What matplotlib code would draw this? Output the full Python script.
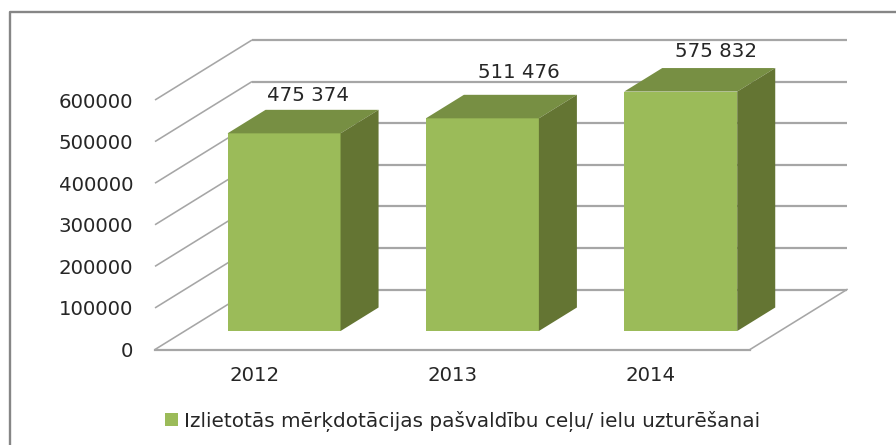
import matplotlib
matplotlib.use("Agg")
import matplotlib.pyplot as plt
from matplotlib.patches import Patch
from matplotlib.lines import Line2D

years = ["2012", "2013", "2014"]
values = [475374, 511476, 575832]
value_labels = ["475 374", "511 476", "575 832"]
y_ticks = [0, 100000, 200000, 300000, 400000, 500000, 600000]
series_name = "Izlietotās mērķdotācijas pašvaldību ceļu/ ielu uzturēšanai"

W, H = 896, 445
FRONT, TOP, SIDE = "#9BBB59", "#778F43", "#647533"
GRID, TEXT = "#A6A6A6", "#262626"

plt.rcParams["font.family"] = ["DejaVu Sans"]
fig = plt.figure(figsize=(W / 100, H / 100), dpi=100)
x0, x1, y0, y6 = 155, 750, 349.5, 100
ax = fig.add_axes([x0 / W, 1 - y0 / H, (x1 - x0) / W, (y0 - y6) / H])
ax.set_xlim(0, len(years))
ax.set_ylim(0, max(y_ticks))

# oblique projection: full chart depth in data units
px_x = (x1 - x0) / len(years)
px_y = (y0 - y6) / max(y_ticks)
DX, DY = 97 / px_x, 60 / px_y


def project(cat, val, depth):
    return cat + depth * DX, val + depth * DY


# wall grid lines
for v in y_ticks:
    xa, ya = project(0, v, 0)
    xb, yb = project(0, v, 1)
    xc, yc = project(len(years), v, 1)
    ax.plot([xa, xb], [ya, yb], color=GRID, lw=1.15, zorder=1, clip_on=False, solid_capstyle="butt")
    ax.plot([xb, xc], [yb, yc], color=GRID, lw=1.6, zorder=1, clip_on=False, solid_capstyle="butt")
# floor front and right edges
ax.plot([0, len(years)], [0, 0], color=GRID, lw=1.6, zorder=1, clip_on=False)
xr, yr = project(len(years), 0, 1)
ax.plot([len(years), xr], [0, yr], color=GRID, lw=1.15, zorder=1, clip_on=False)

# 3D bars
bw = 113 / px_x
near, far = 0.308, 0.70
for i, v in enumerate(values):
    c = i + 0.5
    l, r = c - bw / 2, c + bw / 2
    xl, yb = project(l, 0, near)
    xrr, _ = project(r, 0, near)
    ax.bar(xl, v, width=xrr - xl, bottom=yb, align="edge", color=FRONT, zorder=3, clip_on=False, lw=0)
    top = [project(l, v, near), project(r, v, near), project(r, v, far), project(l, v, far)]
    side = [project(r, 0, near), project(r, v, near), project(r, v, far), project(r, 0, far)]
    ax.fill(*zip(*top), color=TOP, zorder=3, clip_on=False, lw=0)
    ax.fill(*zip(*side), color=SIDE, zorder=3, clip_on=False, lw=0)

# data labels (moved by hand in the original)
label_offsets = [(24, 38), (36.5, 45.7), (35, 39.7)]
for i, v in enumerate(values):
    xf, yf = project(i + 0.5, v, near)
    ax.annotate(value_labels[i], (xf, yf), xytext=label_offsets[i], textcoords="offset pixels",
                ha="center", va="center", fontsize=14.2, color=TEXT, zorder=5, annotation_clip=False)

ax.set_xticks([i + 0.5 for i in range(len(years))], years)
ax.set_yticks(y_ticks, [str(t) for t in y_ticks])
ax.tick_params(axis="y", length=0, pad=15.8, labelsize=14.2, labelcolor=TEXT)
ax.tick_params(axis="x", length=0, pad=12.2, labelsize=14.2, labelcolor=TEXT)
for s in ax.spines.values():
    s.set_visible(False)
ax.patch.set_alpha(0)

# outer frame, cropped at right and bottom
fig.add_artist(Line2D([9.5 / W, 9.5 / W, 1], [0, 1 - 12 / H, 1 - 12 / H], color="#868686", lw=1.7,
                      transform=fig.transFigure))

fig.legend(handles=[Patch(color=FRONT, lw=0, label=series_name)], loc="center left",
           bbox_to_anchor=(165 / W, 1 - 421 / H), frameon=False, fontsize=14.4, labelcolor=TEXT,
           borderpad=0, borderaxespad=0, handlelength=0.625, handleheight=0.625, handletextpad=0.32)

fig.savefig("out.png", dpi=100)
